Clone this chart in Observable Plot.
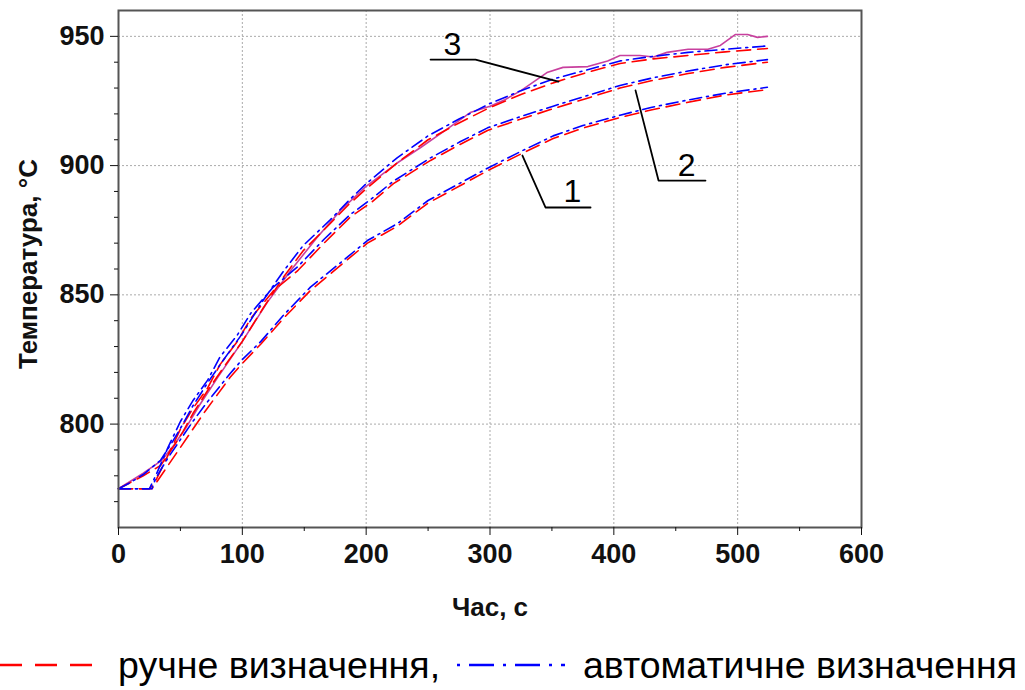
<!DOCTYPE html>
<html><head><meta charset="utf-8">
<script src="https://cdn.jsdelivr.net/npm/d3@7"></script>
<script src="https://cdn.jsdelivr.net/npm/@observablehq/plot@0.6"></script>
<style>
body{margin:0;background:#fff;font-family:"Liberation Sans",Arial,sans-serif;}
#chart svg{display:block;}
</style></head><body><div id="chart"></div><div id="legend"></div>
<script>
// Curve 1
const t1 = [0, 27, 30, 40, 50, 60, 70, 80, 90, 100, 115, 133, 155, 182, 201, 225, 250, 275, 298, 325, 351, 375, 405, 430, 459, 490, 524];
const c1Manual = [775, 775, 777, 784, 791, 798, 805, 811.5, 818, 823.5, 831, 840.8, 851.7, 862.5, 870, 876.5, 885.5, 892, 898, 904.5, 910.5, 914.5, 918.6, 921.5, 924.4, 927.3, 929.4];
const c1Auto = [775, 775, 779, 787, 794, 801, 807.5, 813.5, 819.5, 825, 832, 842, 853, 863.5, 871, 877.5, 886.5, 893, 899, 905.5, 911.5, 915.5, 919.5, 922.5, 925.3, 928, 930.3];
// Curve 2
const t2 = [0, 25, 30, 40, 50, 60, 72, 82, 96, 107, 125, 145, 166, 187, 204, 222, 252, 275, 298, 325, 351, 378, 405, 432, 460, 490, 524];
const c2Manual = [775, 775, 778, 788, 798, 806, 814, 823, 832, 841, 851.5, 859.5, 870, 880, 885.7, 893, 902, 908, 913.6, 918, 922, 926, 930, 933, 935.6, 938, 940];
const c2Auto = [775, 775, 780, 791, 801, 809, 817, 826, 834.5, 843, 853, 861, 871.5, 881, 887, 894, 903, 909, 914.6, 919, 923, 927, 931, 934, 936.6, 939, 941];
// Curve 3
const t3 = [0, 10, 20, 34, 44, 52, 60, 72, 85, 100, 117, 133, 149, 171, 186, 200, 225, 250, 275, 300, 325, 351, 378, 405, 432, 460, 490, 524];
const c3Manual = [775, 777.5, 780, 784, 791, 797, 804, 813, 822, 832, 845, 856.7, 867, 877.6, 885, 891, 901, 910, 916.5, 922.5, 927.5, 932, 936, 939.5, 941.3, 942.6, 944, 945.3];
const c3Auto = [775, 777.5, 780.5, 786, 793.5, 800, 807, 816, 825, 835, 848, 859, 869, 879, 886.5, 893, 903, 911.5, 918, 924, 929, 933.5, 937, 940.5, 942.3, 943.8, 945, 946.3];
// Measured (magenta) for curve 3
const tMeas = [0, 10, 20, 35, 45, 55, 65, 80, 100, 120, 140, 160, 180, 200, 225, 244, 265, 284, 300, 312, 325, 346, 359, 379, 395, 405, 421, 432, 443, 460, 476, 486, 498, 508, 516, 524];
const cMeas = [775, 778, 781, 786, 792, 799, 807, 818, 832, 847, 860, 872, 883, 892, 901, 907, 914, 920.5, 923, 925.5, 929, 936, 938, 938.3, 940.5, 942.6, 942.6, 942, 943.8, 945, 945, 946.5, 950.7, 950.7, 949.6, 950];

// Axis ticks
const xTicks = [0, 100, 200, 300, 400, 500, 600];
const xMinor = [50, 150, 250, 350, 450, 550];
const xGrid = [100, 200, 300, 400, 500];
const yTicks = [800, 850, 900, 950];
const yMinor = [770, 780, 790, 810, 820, 830, 840, 860, 870, 880, 890, 910, 920, 930, 940];

// Annotation leaders (data units)
const leaderLabels = ["1", "2", "3"];
const leader1 = [[326.2, 903.9], [344.8, 883.8], [381.2, 883.8]];
const leader2 = [[417.5, 929.1], [436.1, 894.2], [474.0, 894.2]];
const leader3 = [[355.3, 932.5], [288.3, 941.0], [252.0, 941.0]];
const labelX = [366.6, 458.7, 269.7];
const labelY = [883.8, 894.2, 941.0];

const legendLabels = ["ручне визначення,", "автоматичне визначення"];
const xTitle = "Час, с";
const yTitle = "Температура, °C";

const toRows = (t, v, s) => t.map((x, i) => ({t: x, v: v[i], s}));
const manual = [...toRows(t1, c1Manual, "1"), ...toRows(t2, c2Manual, "2"), ...toRows(t3, c3Manual, "3")];
const auto = [...toRows(t1, c1Auto, "1"), ...toRows(t2, c2Auto, "2"), ...toRows(t3, c3Auto, "3")];
const meas = toRows(tMeas, cMeas, "m");
const leaders = [leader1, leader2, leader3].flatMap((pts, k) => pts.map(([x, y]) => ({x, y, k})));
const labels = leaderLabels.map((l, i) => ({l, x: labelX[i], y: labelY[i]}));

const chart = Plot.plot({
  width: 1025, height: 640,
  marginLeft: 118, marginRight: 164, marginTop: 10, marginBottom: 113,
  style: {fontFamily: "Liberation Sans, Arial, sans-serif", fontSize: "27px", fontWeight: "bold", color: "#111", background: "#fff"},
  x: {domain: [0, 600]},
  y: {domain: [760, 960]},
  marks: [
    Plot.gridX(xGrid, {stroke: "#aaa", strokeOpacity: 1, strokeDasharray: "2,2"}),
    Plot.gridY(yTicks, {stroke: "#aaa", strokeOpacity: 1, strokeDasharray: "2,2"}),
    Plot.line(meas, {x: "t", y: "v", stroke: "#c8409e", strokeWidth: 1.6}),
    Plot.line(manual, {x: "t", y: "v", z: "s", stroke: "#ff0000", strokeWidth: 1.6, strokeDasharray: "14,7"}),
    Plot.line(auto, {x: "t", y: "v", z: "s", stroke: "#0000ff", strokeWidth: 1.6, strokeDasharray: "12,5,2,5"}),
    Plot.line(leaders, {x: "x", y: "y", z: "k", stroke: "#000", strokeWidth: 1.8}),
    Plot.text(labels, {x: "x", y: "y", text: "l", dy: -5, lineAnchor: "bottom", fontSize: 32, fontWeight: "normal", fill: "#000"}),
    Plot.frame({stroke: "#555", strokeWidth: 2}),
    Plot.axisX({ticks: xTicks, tickSize: 8, tickPadding: 8, label: null, tickFormat: d3.format("d")}),
    Plot.axisX({ticks: xMinor, tickSize: 4, text: null, label: null}),
    Plot.axisY({ticks: yTicks, tickSize: 8, tickPadding: 6, label: null, tickFormat: d3.format("d")}),
    Plot.axisY({ticks: yMinor, tickSize: 4, text: null, label: null}),
    Plot.text([xTitle], {frameAnchor: "bottom", dy: 80, lineAnchor: "middle", fontSize: 26, fontWeight: "bold"}),
    Plot.text([yTitle], {frameAnchor: "left", textAnchor: "middle", dx: -90, dy: -5, rotate: -90, lineAnchor: "middle", fontSize: 26, fontWeight: "bold"})
  ]
});
document.getElementById("chart").appendChild(chart);

// Legend
const lg = d3.select("#legend").append("svg").attr("width", 1025).attr("height", 50).style("display", "block");
lg.append("line").attr("x1", 0).attr("x2", 103).attr("y1", 25).attr("y2", 25)
  .attr("stroke", "#ff0000").attr("stroke-width", 2.5).attr("stroke-dasharray", "22,13");
lg.append("text").attr("x", 118).attr("y", 25).attr("dy", "0.35em")
  .attr("font-size", 37.5).attr("font-family", "Liberation Sans, Arial, sans-serif").attr("fill", "#000").text(legendLabels[0]);
lg.append("line").attr("x1", 457).attr("x2", 565).attr("y1", 25).attr("y2", 25)
  .attr("stroke", "#0000ff").attr("stroke-width", 2.5).attr("stroke-dasharray", "3,9,25,9");
lg.append("text").attr("x", 583).attr("y", 25).attr("dy", "0.35em")
  .attr("font-size", 37.5).attr("font-family", "Liberation Sans, Arial, sans-serif").attr("fill", "#000").text(legendLabels[1]);
</script></body></html>
